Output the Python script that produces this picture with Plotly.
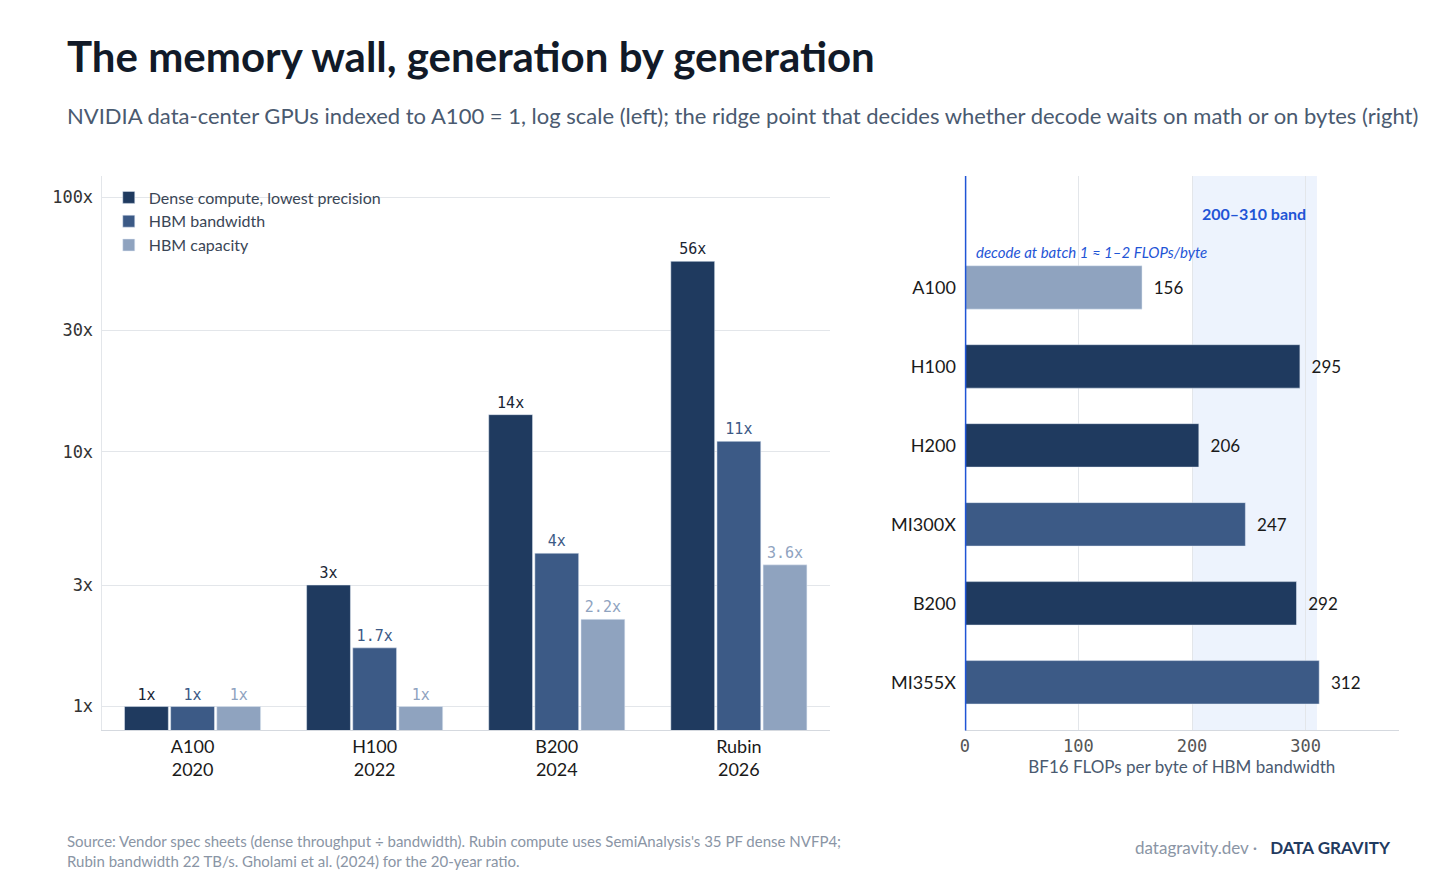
import plotly.graph_objects as go

gens = ["A100<br>2020", "H100<br>2022", "B200<br>2024", "Rubin<br>2026"]
compute = [1, 3, 14, 56]
bandwidth = [1, 1.7, 4, 11]
capacity = [1, 1, 2.2, 3.6]
compute_lbl = ["1x", "3x", "14x", "56x"]
bandwidth_lbl = ["1x", "1.7x", "4x", "11x"]
capacity_lbl = ["1x", "1x", "2.2x", "3.6x"]

gpus = ["A100", "H100", "H200", "MI300X", "B200", "MI355X"]
ridge = [156, 295, 206, 247, 292, 312]

DARK, MID, LIGHT = "#1f3a5f", "#3c5a86", "#8fa3bf"
ridge_colors = [LIGHT, DARK, DARK, MID, DARK, MID]
MONO = "DejaVu Sans Mono"

Y0, Y1 = 0.179, 0.809

fig = go.Figure()
for name, vals, lbls, col, tcol in [
    ("Dense compute, lowest precision", compute, compute_lbl, DARK, "#1a2533"),
    ("HBM bandwidth", bandwidth, bandwidth_lbl, MID, MID),
    ("HBM capacity", capacity, capacity_lbl, LIGHT, LIGHT),
]:
    fig.add_trace(go.Bar(x=gens, y=vals, name=name, marker_color=col,
                         text=lbls, textposition="outside", cliponaxis=False,
                         textfont=dict(family=MONO, size=15, color=tcol),
                         xaxis="x", yaxis="y"))

fig.add_trace(go.Bar(x=ridge, y=gpus, orientation="h", marker_color=ridge_colors,
                     text=["  " + str(v) for v in ridge], textposition="outside",
                     textfont=dict(size=17, color="#1a1a1a"), cliponaxis=False,
                     showlegend=False, width=0.55, xaxis="x2", yaxis="y2"))

fig.update_layout(
    width=1456, height=880, margin=dict(l=0, r=0, t=0, b=0),
    paper_bgcolor="white", plot_bgcolor="white",
    font=dict(family="Lato", color="#1a2533"),
    barmode="group", bargap=0.24, bargroupgap=0.05,
    xaxis=dict(domain=[0.061, 0.563], showline=True, linecolor="#d5d9df",
               tickfont=dict(size=18, color="#1a1a1a"), ticks=""),
    yaxis=dict(domain=[Y0, Y1], type="log", range=[-0.094, 2.083],
               tickvals=[1, 3, 10, 30, 100], ticktext=["1x", "3x", "10x", "30x", "100x"],
               tickfont=dict(family=MONO, size=17, color="#333"), ticklabelstandoff=4,
               gridcolor="#e3e6ea", showline=True, linecolor="#e3e6ea", zeroline=False),
    xaxis2=dict(domain=[0.656, 0.955], anchor="y2", range=[0, 382],
                tickvals=[0, 100, 200, 300], tickfont=dict(family=MONO, size=17, color="#555"),
                gridcolor="#e3e6ea", showline=True, linecolor="#d5d9df", zeroline=False,
                title=dict(text="BF16 FLOPs per byte of HBM bandwidth",
                           font=dict(size=17, color="#4a5a70"), standoff=6)),
    yaxis2=dict(domain=[Y0, Y1], anchor="x2", range=[5.61, -1.41],
                tickfont=dict(size=18, color="#1a1a1a"), ticks="", ticklabelstandoff=8),
    legend=dict(x=0.066, y=Y1 - 0.005, xanchor="left", yanchor="top",
                font=dict(size=16, color="#3a4656"), bgcolor="rgba(0,0,0,0)",
                itemwidth=30, tracegroupgap=2),
)

fig.add_shape(type="rect", xref="x2", yref="paper", x0=200, x1=310, y0=Y0, y1=Y1,
              fillcolor="#edf3fd", line_width=0, layer="below")
fig.add_shape(type="line", xref="x2", yref="paper", x0=0, x1=0, y0=Y0, y1=Y1,
              line=dict(color="#1f55d6", width=3))
fig.add_annotation(xref="x2", yref="paper", x=255, y=0.779, text="<b>200–310 band</b>",
                   showarrow=False, font=dict(size=16, color="#1f55d6"))
fig.add_annotation(xref="x2", yref="paper", x=8, y=0.735, xanchor="left",
                   text="<i>decode at batch 1 ≈ 1–2 FLOPs/byte</i>",
                   showarrow=False, font=dict(size=15, color="#1f55d6"))

fig.add_annotation(xref="paper", yref="paper", x=0.036, y=0.976, xanchor="left",
                   text="<b>The memory wall, generation by generation</b>",
                   showarrow=False, font=dict(size=42, color="#111a28"))
fig.add_annotation(xref="paper", yref="paper", x=0.036, y=0.895, xanchor="left",
                   text="NVIDIA data-center GPUs indexed to A100 = 1, log scale (left); the ridge point that decides whether decode waits on math or on bytes (right)",
                   showarrow=False, font=dict(size=22, color="#4a5a70"))
fig.add_annotation(xref="paper", yref="paper", x=0.036, y=0.018, xanchor="left", yanchor="bottom",
                   align="left",
                   text="Source: Vendor spec sheets (dense throughput ÷ bandwidth). Rubin compute uses SemiAnalysis's 35 PF dense NVFP4;<br>Rubin bandwidth 22 TB/s. Gholami et al. (2024) for the 20-year ratio.",
                   showarrow=False, font=dict(size=15, color="#8a95a5"))
fig.add_annotation(xref="paper", yref="paper", x=0.951, y=0.032, xanchor="right",
                   text="<span style='color:#8a95a5'>datagravity.dev · </span>  <b>DATA GRAVITY</b>",
                   showarrow=False, font=dict(size=17, color="#1f3a5f"))

fig.write_html("out.html")
